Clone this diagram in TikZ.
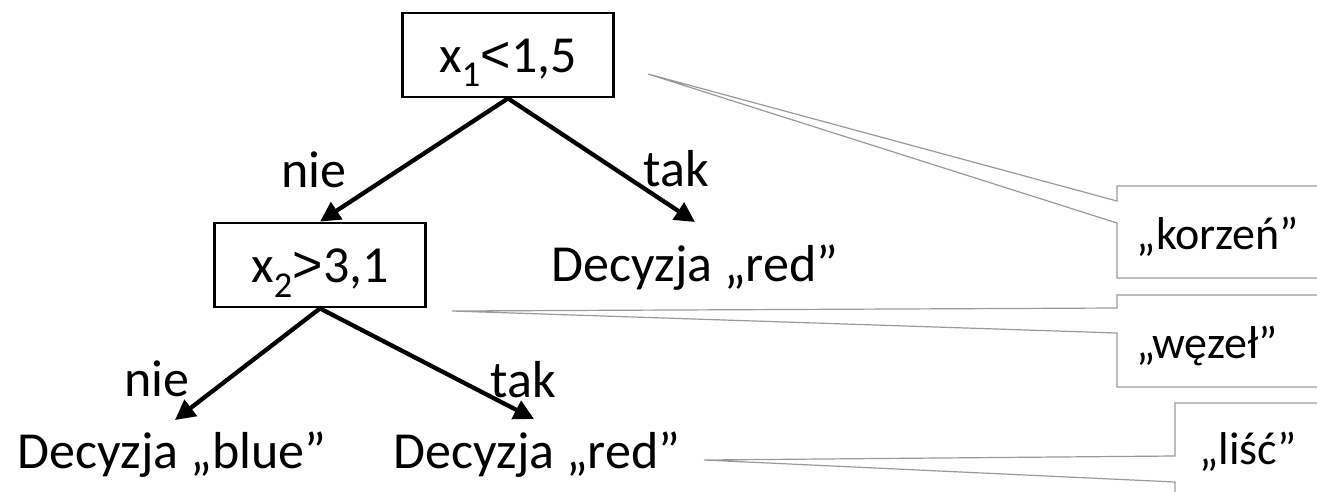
\documentclass[tikz,border=0pt]{standalone}
\usepackage{fontspec}
\setmainfont{Carlito}
\newfontfamily\relfont{Liberation Sans}
\usetikzlibrary{arrows.meta}
\tikzset{
  testbox/.style={draw, line width=2.8pt, minimum width=211pt, minimum height=84pt, inner sep=0pt},
  bigtext/.style={font=\fontsize{52}{60}\selectfont, inner sep=0pt},
  calltext/.style={font=\fontsize{46}{54}\selectfont, inner sep=0pt, anchor=base},
  branch/.style={line width=4.3pt, -{Triangle[length=20pt,width=20pt]}},
  callout/.style={draw=gray!80, line width=1.2pt, line join=miter},
}
\begin{document}
\begin{tikzpicture}[x=1pt, y=-1pt]
  \useasboundingbox (0,0) rectangle (1317,491);

  % decision nodes
  \node[testbox] (root) at (508,55) {};
  \node[bigtext, anchor=base] (rootlbl) at (508,72) {x\textsubscript{1}{\relfont <}1,5};
  \node[testbox] (x2) at (320,265) {};
  \node[bigtext, anchor=base] (x2lbl) at (320,282) {x\textsubscript{2}{\relfont >}3,1};

  % leaves
  \node[bigtext, anchor=base] (red1) at (695,281) {Decyzja „red”};
  \node[bigtext, anchor=base] (blue) at (172,468) {Decyzja „blue”};
  \node[bigtext, anchor=base] (red2) at (537,468) {Decyzja „red”};

  % arrow tips above the leaves
  \coordinate (red1tip) at (695,222);
  \coordinate (bluetip) at (175,420);
  \coordinate (red2tip) at (534,419);

  % branches
  \draw[branch] (root.south) -- (x2.north);
  \draw[branch] (root.south) -- (red1tip);
  \draw[branch] (x2.south) -- (bluetip);
  \draw[branch] (x2.south) -- (red2tip);

  % branch labels
  \node[bigtext, anchor=base] (n1) at (314,187) {nie};
  \node[bigtext, anchor=base] (t1) at (676,186) {tak};
  \node[bigtext, anchor=base] (n2) at (157,396) {nie};
  \node[bigtext, anchor=base] (t2) at (523,397) {tak};

  % callout anchors
  \coordinate (ptroot) at (648,74);
  \coordinate (ptnode) at (452,311);
  \coordinate (ptleaf) at (704,460);

  % callouts
  \draw[callout] (1320,186) -- (1117,186) -- (1117,201) -- (ptroot)
                 -- (1117,223) -- (1117,278) -- (1320,278);
  \draw[callout] (1320,295) -- (1117,295) -- (1117,308) -- (ptnode)
                 -- (1117,333) -- (1117,387) -- (1320,387);
  \draw[callout] (1320,403) -- (1175,403) -- (1175,456) -- (ptleaf)
                 -- (1175,482) -- (1175,495);

  \node[calltext] (korzen) at (1218,249) {„korzeń”};
  \node[calltext] (wezel) at (1207,358) {„węzeł”};
  \node[calltext] (lisc) at (1248,464) {„liść”};
\end{tikzpicture}
\end{document}
